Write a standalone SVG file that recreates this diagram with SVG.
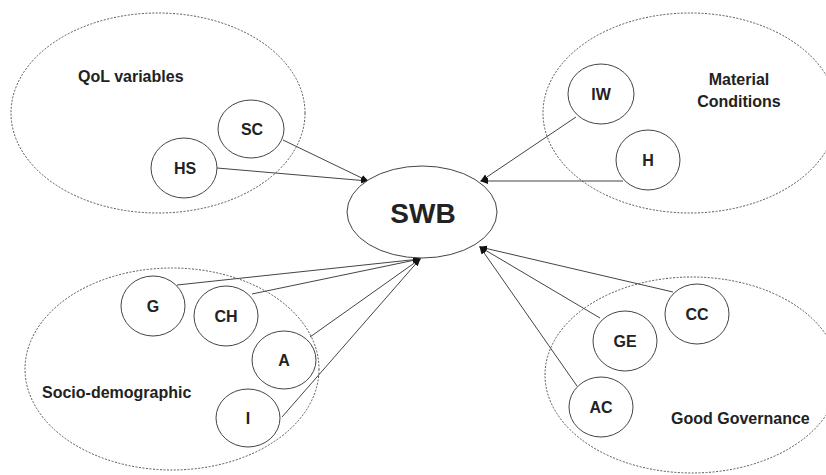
<svg xmlns="http://www.w3.org/2000/svg" width="826" height="475" viewBox="0 0 826 475">
<style>
.grp{fill:none;stroke:#555;stroke-width:1;stroke-dasharray:2 1.5}
.node{fill:#fff;stroke:#444;stroke-width:1}
.lbl{font-family:"Liberation Sans",Arial,sans-serif;font-weight:bold;font-size:16px;fill:#222;text-anchor:middle}
.glbl{font-family:"Liberation Sans",Arial,sans-serif;font-weight:bold;font-size:16px;fill:#222}
.edge{stroke:#444;stroke-width:1;fill:none;marker-end:url(#ah)}
</style>
<defs>
<marker id="ah" markerUnits="userSpaceOnUse" markerWidth="8" markerHeight="8" viewBox="0 0 8 8" refX="7" refY="4" orient="auto">
<path d="M0,1 L8,4 L0,7 Z" fill="#111"/>
</marker>
</defs>
<rect width="826" height="475" fill="#fff"/>
<g id="groups">
<g id="group-qol"><ellipse class="grp" cx="158" cy="113" rx="147" ry="100"/><text class="glbl" x="78" y="82">QoL variables</text></g>
<g id="group-material"><ellipse class="grp" cx="690" cy="113" rx="147" ry="100"/><text class="lbl" x="739" y="85">Material</text><text class="lbl" x="739" y="107">Conditions</text></g>
<g id="group-socio"><ellipse class="grp" cx="172" cy="369" rx="147" ry="101"/><text class="glbl" x="42" y="398">Socio-demographic</text></g>
<g id="group-gov"><ellipse class="grp" cx="692" cy="375" rx="147" ry="98"/><text class="glbl" x="671" y="424">Good Governance</text></g>
</g>
<g id="connectors">
<line class="edge" x1="283" y1="140" x2="368" y2="181"/>
<line class="edge" x1="217" y1="168" x2="368" y2="181"/>
<line class="edge" x1="576" y1="117" x2="481" y2="181"/>
<line class="edge" x1="623" y1="181" x2="481" y2="181"/>
<line class="edge" x1="177" y1="285" x2="420" y2="259"/>
<line class="edge" x1="252" y1="294" x2="420" y2="259"/>
<line class="edge" x1="310" y1="337" x2="420" y2="259"/>
<line class="edge" x1="282" y1="417" x2="420" y2="259"/>
<line class="edge" x1="673" y1="292" x2="480" y2="247"/>
<line class="edge" x1="600" y1="318" x2="480" y2="247"/>
<line class="edge" x1="577" y1="386" x2="480" y2="247"/>
</g>
<g id="node-SWB"><ellipse class="node" cx="422" cy="212" rx="75" ry="46"/><text class="lbl" x="423" y="223" style="font-size:28px">SWB</text></g>
<g id="node-SC"><ellipse class="node" cx="251" cy="129" rx="33" ry="29"/><text class="lbl" x="252" y="135">SC</text></g>
<g id="node-HS"><ellipse class="node" cx="184" cy="168" rx="33" ry="30"/><text class="lbl" x="185" y="174">HS</text></g>
<g id="node-IW"><ellipse class="node" cx="601" cy="94" rx="33" ry="30"/><text class="lbl" x="601" y="100">IW</text></g>
<g id="node-H"><ellipse class="node" cx="648" cy="160" rx="32" ry="30"/><text class="lbl" x="648" y="166">H</text></g>
<g id="node-G"><ellipse class="node" cx="153" cy="306" rx="32" ry="30"/><text class="lbl" x="153" y="312">G</text></g>
<g id="node-CH"><ellipse class="node" cx="226" cy="316" rx="32" ry="30"/><text class="lbl" x="226" y="322">CH</text></g>
<g id="node-A"><ellipse class="node" cx="284" cy="360" rx="32" ry="29"/><text class="lbl" x="284" y="366">A</text></g>
<g id="node-I"><ellipse class="node" cx="248" cy="418" rx="32" ry="29"/><text class="lbl" x="248" y="424">I</text></g>
<g id="node-CC"><ellipse class="node" cx="697" cy="314" rx="32" ry="30"/><text class="lbl" x="697" y="320">CC</text></g>
<g id="node-GE"><ellipse class="node" cx="625" cy="341" rx="32" ry="30"/><text class="lbl" x="625" y="347">GE</text></g>
<g id="node-AC"><ellipse class="node" cx="601" cy="407" rx="32" ry="30"/><text class="lbl" x="601" y="413">AC</text></g>
</svg>
